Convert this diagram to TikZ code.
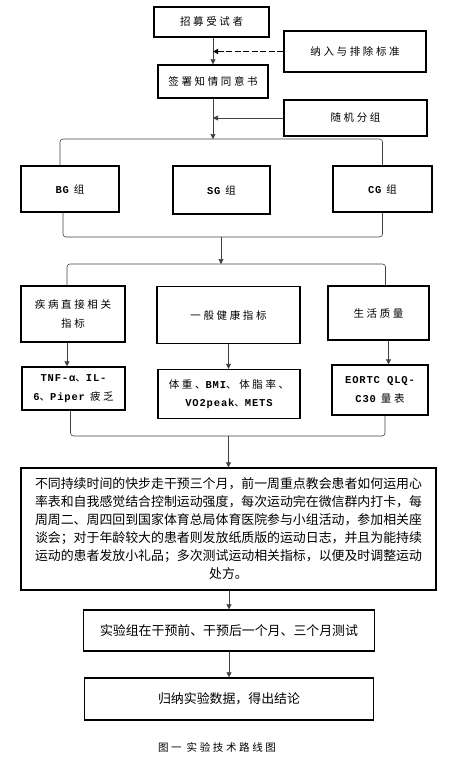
\documentclass[tikz,border=0pt]{standalone}
\usepackage{fontspec}
\usepackage{tikz}
\usetikzlibrary{arrows.meta}

\newfontfamily\zh[LetterSpace=25]{Noto Sans CJK SC}
\newfontfamily\zhbody{Noto Sans CJK SC}
\newfontfamily\en[LetterSpace=8]{Liberation Mono}
\newcommand{\la}[1]{{\en\bfseries #1}}

\tikzset{
  box/.style={draw, line width=1.3pt, inner sep=0pt, align=center,
    font=\zh\fontsize{10.5}{18.5}\selectfont},
  bigbox/.style={box, font=\zhbody\fontsize{12.9}{18}\selectfont},
  link/.style={draw=black!75, line width=0.6pt},
  flow/.style={link, -{Triangle[length=5pt,width=5pt]}},
  bracket/.style={link, rounded corners=3pt},
}

\begin{document}
\begin{tikzpicture}[x=1pt,y=-1pt]
\useasboundingbox (0,0) rectangle (452,758);

% draw boxes
\node (recruit) [box, minimum width=115pt, minimum height=30pt] at (211.5,22) {招募受试者};
\node (criteria) [box, minimum width=142pt, minimum height=41pt] at (355,51.5) {纳入与排除标准};
\node (consent) [box, minimum width=110pt, minimum height=33pt] at (213,81.5) {签署知情同意书};
\node (random) [box, minimum width=143pt, minimum height=36pt] at (355.5,118) {随机分组};

\node (bg) [box, minimum width=98pt, minimum height=46pt] at (70,189) {\la{BG} 组};
\node (sg) [box, minimum width=97pt, minimum height=48pt] at (221.5,190) {\la{SG} 组};
\node (cg) [box, minimum width=99pt, minimum height=46pt] at (382.5,189) {\la{CG} 组};

\node (disease) [box, minimum width=104pt, minimum height=56pt] at (73,314) {疾病直接相关\\指标};
\node (health) [box, minimum width=143pt, minimum height=57pt] at (228.5,315) {一般健康指标};
\node (quality) [box, minimum width=101pt, minimum height=54pt] at (378.5,313) {生活质量};

\node (tnf) [box, minimum width=103pt, minimum height=43pt] at (73.5,388.5) {\la{TNF-α}、\la{IL-}\\\la{6}、\la{Piper} 疲乏};
\node (weight) [box, minimum width=142pt, minimum height=49pt] at (229,394) {体重、\la{BMI}、体脂率、\\\la{VO2peak}、\la{METS}};
\node (eortc) [box, minimum width=96pt, minimum height=50pt] at (380,390) {\la{EORTC QLQ-}\\\la{C30} 量表};

\node (plan) [bigbox, minimum width=415pt, minimum height=122pt] at (228.5,529) {不同持续时间的快步走干预三个月，前一周重点教会患者如何运用心\\
率表和自我感觉结合控制运动强度，每次运动完在微信群内打卡，每\\
周周二、周四回到国家体育总局体育医院参与小组活动，参加相关座\\
谈会；对于年龄较大的患者则发放纸质版的运动日志，并且为能持续\\
运动的患者发放小礼品；多次测试运动相关指标，以便及时调整运动\\
处方。};
\node (test) [bigbox, minimum width=291pt, minimum height=41pt] at (229,630.5) {实验组在干预前、干预后一个月、三个月测试};
\node (summary) [bigbox, minimum width=289pt, minimum height=42pt] at (229,699) {归纳实验数据，得出结论};

\node (caption) [font=\zh\fontsize{10.5}{12}\selectfont] at (217,747) {图一 实验技术路线图};

% branch points
\coordinate (fork1) at (213,139);
\coordinate (join1) at (221,237);
\coordinate (fork2) at (221,264);
\coordinate (join2) at (228.5,436);

% draw connectors
\draw [flow] (consent.north |- recruit.south) -- (consent.north);
\draw [flow, draw=black, line width=1.5pt, dash pattern=on 6pt off 2.5pt] (criteria.west) -- (consent.north |- criteria.west);
\draw [flow] (consent.south) -- (fork1);
\draw [flow] (random.west) -- (consent.south |- random.west);

\draw [bracket] ([xshift=-10pt]bg.north) |- (fork1) -| (cg.north);
\draw [bracket] ([xshift=-7pt]bg.south) |- (join1) -| (cg.south);
\draw [flow] (join1) -- (fork2);
\draw [bracket] ([xshift=-6pt]disease.north) |- (fork2) -| ([xshift=7pt]quality.north);

\draw [flow] ([xshift=-6pt]disease.south) -- ([xshift=-6pt]disease.south |- tnf.north);
\draw [flow] (health.south) -- (health.south |- weight.north);
\draw [flow] ([xshift=10pt]quality.south) -- ([xshift=10pt]quality.south |- eortc.north);

\draw [bracket] ([xshift=-3pt]tnf.south) |- (join2) -| ([xshift=5pt]eortc.south);
\draw [flow] (join2) -- (plan.north);
\draw [flow] (plan.south -| test.north) -- (test.north);
\draw [flow] (test.south) -- (summary.north);

\end{tikzpicture}
\end{document}
